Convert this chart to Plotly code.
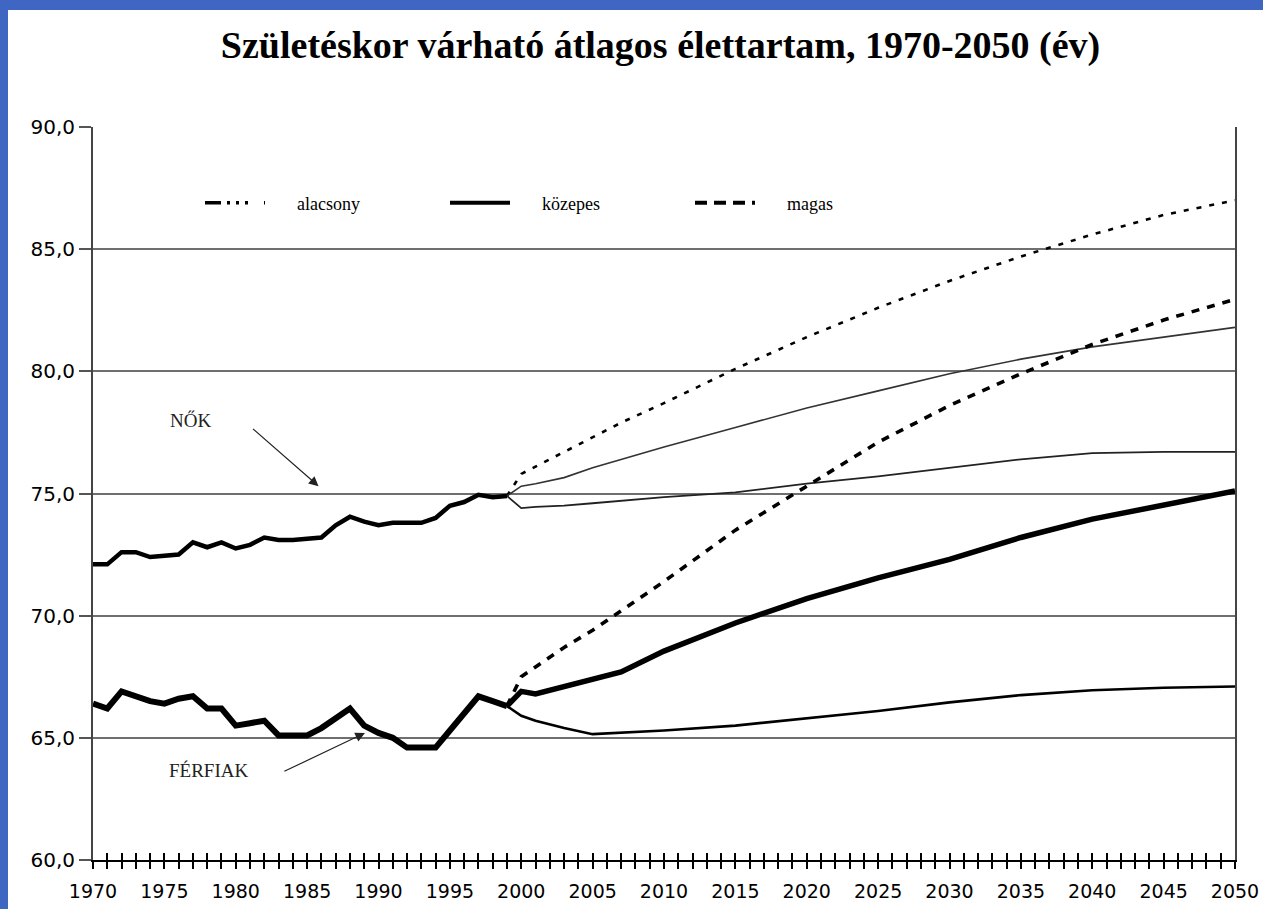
import plotly.graph_objects as go

# ---------------- data ----------------
years_hist = list(range(1970, 2000))
women_hist = [72.1, 72.1, 72.6, 72.6, 72.4, 72.45, 72.5, 73.0, 72.8, 73.0,
              72.75, 72.9, 73.2, 73.1, 73.1, 73.15, 73.2, 73.7, 74.05, 73.85,
              73.7, 73.8, 73.8, 73.8, 74.0, 74.5, 74.65, 74.95, 74.85, 74.9]
men_hist = [66.4, 66.2, 66.9, 66.7, 66.5, 66.4, 66.6, 66.7, 66.2, 66.2,
            65.5, 65.6, 65.7, 65.1, 65.1, 65.1, 65.4, 65.8, 66.2, 65.5,
            65.2, 65.0, 64.6, 64.6, 64.6, 65.3, 66.0, 66.7, 66.5, 66.3]

years_proj = [1999, 2000, 2001, 2003, 2005, 2007, 2010, 2015, 2020, 2025,
              2030, 2035, 2040, 2045, 2050]
women_low = [74.9, 74.4, 74.45, 74.5, 74.6, 74.7, 74.85, 75.05, 75.4, 75.7,
             76.05, 76.4, 76.65, 76.7, 76.7]
women_mid = [74.9, 75.3, 75.4, 75.65, 76.05, 76.4, 76.9, 77.7, 78.5, 79.2,
             79.9, 80.5, 81.0, 81.4, 81.8]
women_high = [74.9, 75.8, 76.1, 76.7, 77.3, 77.9, 78.7, 80.1, 81.4, 82.6,
              83.7, 84.7, 85.6, 86.4, 87.0]
men_low = [66.3, 65.9, 65.7, 65.4, 65.15, 65.2, 65.3, 65.5, 65.8, 66.1,
           66.45, 66.75, 66.95, 67.05, 67.1]
men_mid = [66.3, 66.9, 66.8, 67.1, 67.4, 67.7, 68.55, 69.7, 70.7, 71.55,
           72.3, 73.2, 73.95, 74.55, 75.1]
men_high = [66.3, 67.5, 67.9, 68.7, 69.4, 70.2, 71.4, 73.5, 75.3, 77.1,
            78.6, 79.9, 81.1, 82.1, 82.95]

scenario_names = ["alacsony", "közepes", "magas"]
title_text = "Születéskor várható átlagos élettartam, 1970-2050 (év)"

# ---------------- layout constants ----------------
W, H = 1263, 909
ML, MR, MT, MB = 93, 28, 127, 49
PW, PH = W - ML - MR, H - MT - MB
BLUE = "#3F66C2"
SERIF = "Liberation Serif, Times New Roman, serif"
SANS = "DejaVu Sans, Verdana, sans-serif"

fig = go.Figure()

def add_line(x, y, width, dash="solid", color="black"):
    fig.add_trace(go.Scatter(x=x, y=y, mode="lines", showlegend=False,
                             hoverinfo="skip",
                             line=dict(color=color, width=width, dash=dash)))

# projections (drawn first so history sits on top)
add_line(years_proj, women_high, 2.6, "5px,8px")
add_line(years_proj, women_mid, 1.6, "solid", "#333333")
add_line(years_proj, women_low, 1.8, "solid", "#222222")
add_line(years_proj, men_high, 3.6, "8px,8px")
add_line(years_proj, men_mid, 5.5)
add_line(years_proj, men_low, 2.6)
# history
add_line(years_hist, women_hist, 4.5)
add_line(years_hist, men_hist, 6)

# legend entries
legend_dashes = ["16px,6px,3px,6px,3px,6px,3px", "solid", "12px,7px"]
legend_widths = [3.5, 4, 4]
NB = "\u00a0" * 6
for name, d, w in zip(scenario_names, legend_dashes, legend_widths):
    fig.add_trace(go.Scatter(x=[None], y=[None], mode="lines", name=NB + name,
                             line=dict(color="black", width=w, dash=d)))

# overlay axis for the upper half of the year tick crosses
fig.add_trace(go.Scatter(x=[1970, 2050], y=[None, None], xaxis="x2",
                         mode="lines", showlegend=False, hoverinfo="skip"))

px_to_paper_x = lambda p: (p - ML) / PW
px_to_paper_y = lambda p: (H - MB - p) / PH

shapes = [
    dict(type="rect", xref="paper", yref="paper", layer="above",
         x0=px_to_paper_x(0), x1=px_to_paper_x(W), y0=px_to_paper_y(10),
         y1=px_to_paper_y(0), fillcolor=BLUE, line=dict(width=0)),
    dict(type="rect", xref="paper", yref="paper", layer="above",
         x0=px_to_paper_x(0), x1=px_to_paper_x(8), y0=px_to_paper_y(H),
         y1=px_to_paper_y(0), fillcolor=BLUE, line=dict(width=0)),
]

annotations = [
    dict(text="NŐK", x=1976.8, y=77.98, xref="x", yref="y", showarrow=False,
         font=dict(family=SERIF, size=19, color="#222")),
    dict(text="", x=1985.8, y=75.3, ax=1981.1, ay=77.7, xref="x", yref="y",
         axref="x", ayref="y", showarrow=True, arrowhead=2, arrowsize=1.6,
         arrowwidth=1.2, arrowcolor="#222"),
    dict(text="FÉRFIAK", x=1978.1, y=63.66, xref="x", yref="y",
         showarrow=False, font=dict(family=SERIF, size=19, color="#222")),
    dict(text="", x=1989.05, y=65.2, ax=1983.3, ay=63.6, xref="x", yref="y",
         axref="x", ayref="y", showarrow=True, arrowhead=2, arrowsize=1.6,
         arrowwidth=1.2, arrowcolor="#222"),
]

fig.update_layout(
    template="none",
    width=W, height=H, autosize=False,
    margin=dict(l=ML, r=MR, t=MT, b=MB, pad=0, autoexpand=False),
    paper_bgcolor="white", plot_bgcolor="white",
    separators=", ",
    title=dict(text=f"<b>{title_text}</b>", x=0.523, xref="container",
               y=1 - 45 / H, yref="container", xanchor="center",
               yanchor="middle",
               font=dict(family=SERIF, size=38, color="black")),
    showlegend=True,
    legend=dict(orientation="h", x=px_to_paper_x(200), y=px_to_paper_y(203),
                xanchor="left", yanchor="middle", bgcolor="rgba(0,0,0,0)",
                borderwidth=0,
                itemwidth=60, entrywidth=170,
                font=dict(family=SERIF, size=18, color="black")),
    xaxis=dict(range=[1970, 2050], tick0=1970, dtick=5, ticks="outside",
               automargin=False,
               ticklen=7, tickwidth=1.5, tickcolor="black",
               minor=dict(dtick=1, ticks="outside", ticklen=7, tickwidth=1.5,
                          tickcolor="black", showgrid=False),
               showgrid=False, zeroline=False, showline=True,
               linecolor="black", linewidth=2, ticklabelstandoff=6,
               tickfont=dict(family=SANS, size=19, color="black")),
    xaxis2=dict(range=[1970, 2050], overlaying="x", anchor="y", side="bottom",
                automargin=False,
                tick0=1970, dtick=1, ticks="inside", ticklen=7, tickwidth=1.5,
                tickcolor="black", showticklabels=False, showgrid=False,
                zeroline=False, showline=False),
    yaxis=dict(range=[60, 90], dtick=5, tickformat=".1f", ticks="outside",
               automargin=False,
               ticklen=12, tickwidth=2, tickcolor="#555",
               showgrid=True, gridcolor="#6f6f6f", gridwidth=2,
               zeroline=False, showline=True, linecolor="#444", linewidth=2,
               mirror=True, ticklabelstandoff=0,
               tickfont=dict(family=SANS, size=20, color="black")),
    shapes=shapes,
    annotations=annotations,
)

fig.write_html("out.html",
               config={"displayModeBar": False, "responsive": False},
               post_script="document.body.style.margin='0px';"
                           "document.body.style.overflow='hidden';")
